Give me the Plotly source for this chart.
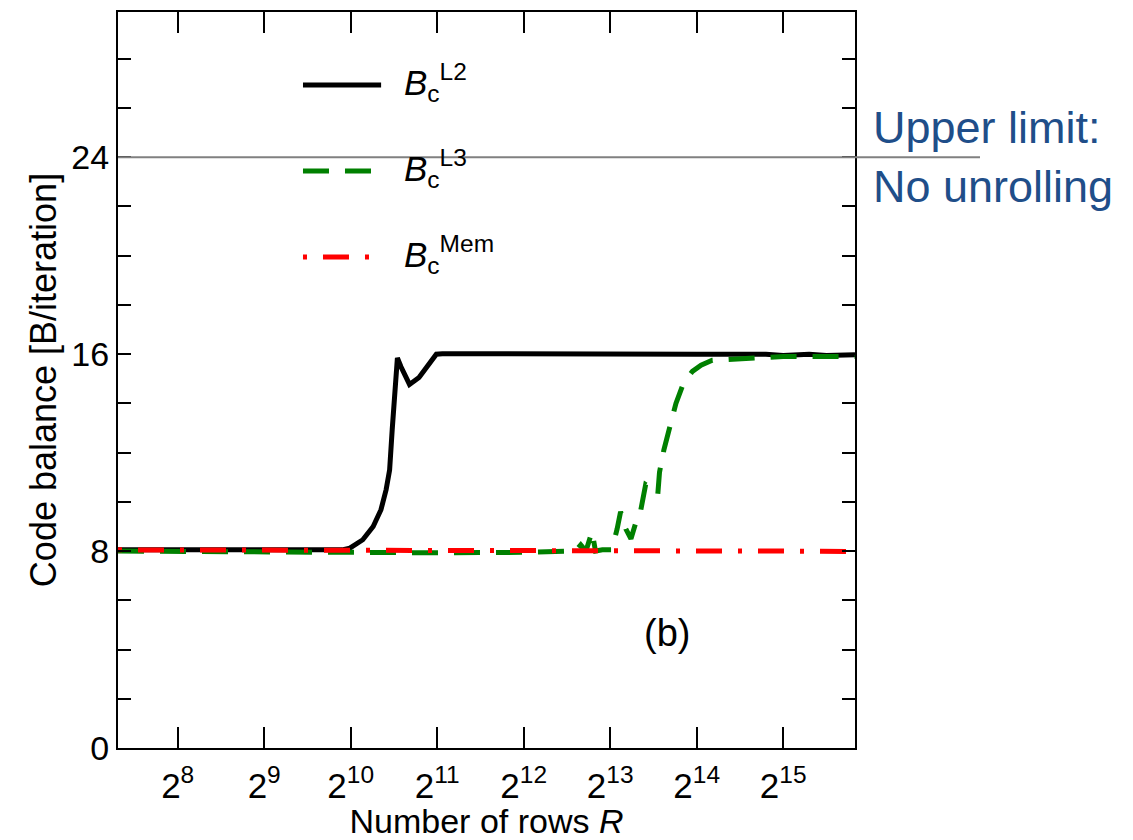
import math
import plotly.graph_objects as go

# ---- data (log2 of number of rows R, code balance in B/iteration) ----
l2_exp = [7.31, 8.0, 9.0, 9.9, 9.99, 10.14, 10.26, 10.35, 10.41, 10.45, 10.48, 10.51,
          10.54, 10.58, 10.68, 10.79, 10.91, 10.99, 11.06, 12.0, 13.0, 14.0, 14.8,
          15.0, 15.3, 15.5, 15.83]
l2_val = [8.05, 8.05, 8.03, 8.05, 8.12, 8.46, 9.0, 9.68, 10.5, 11.3, 12.94, 14.3,
          15.85, 15.5, 14.77, 15.05, 15.58, 16.0, 16.02, 16.0, 16.0, 16.0, 16.0,
          15.95, 16.0, 15.95, 15.98]

l3_exp = [7.31, 8.0, 9.0, 10.0, 11.0, 12.0, 12.6, 12.66, 12.72, 12.79, 12.83, 12.91,
          13.02, 13.08, 13.12, 13.18, 13.24, 13.30, 13.35, 13.41, 13.50, 13.55, 13.57,
          13.62, 13.66, 13.72, 13.76, 13.85, 13.95, 14.05, 14.18, 15.0, 15.83]
l3_val = [8.0, 7.98, 7.95, 7.95, 7.93, 7.95, 8.0, 8.25, 8.0, 8.8, 8.0, 8.05,
          8.05, 8.9, 9.6, 8.9, 8.5, 9.2, 9.6, 10.7, 10.5, 10.3, 11.2,
          12.1, 12.7, 13.5, 14.0, 14.85, 15.3, 15.55, 15.75, 15.9, 15.9]

mem_exp = [7.31, 9.0, 11.0, 13.0, 14.0, 15.0, 15.83]
mem_val = [8.05, 8.05, 8.05, 8.05, 8.02, 8.0, 7.98]

tick_exp = [8, 9, 10, 11, 12, 13, 14, 15]
tick_text = ["2<sup>%d</sup>" % e for e in tick_exp]
y_tick_vals = [0, 8, 16, 24]
upper_limit = 24
x_range_exp = [7.31, 15.83]
y_range = [0, 29.9]

series_names = ["<i>B</i><sub>c</sub><sup>L2</sup>",
                "<i>B</i><sub>c</sub><sup>L3</sup>",
                "<i>B</i><sub>c</sub><sup>Mem</sup>"]
colors = ["black", "#008000", "#ff0000"]
dashes = ["solid", "26px,16px", "4px,16px,26px,16px"]

FONT = "Liberation Sans, Arial, sans-serif"

def to_r(exps):
    return [2 ** e for e in exps]

fig = go.Figure()
for ex, val, c, d in [(l2_exp, l2_val, colors[0], dashes[0]),
                      (l3_exp, l3_val, colors[1], dashes[1]),
                      (mem_exp, mem_val, colors[2], dashes[2])]:
    fig.add_trace(go.Scatter(x=to_r(ex), y=val, mode="lines",
                             line=dict(color=c, width=5, dash=d),
                             showlegend=False))

# manual legend (paper coordinates)
leg_y = [0.9008, 0.7840, 0.6671]
for name, c, d, yy in zip(series_names, colors, dashes, leg_y):
    fig.add_shape(type="line", xref="paper", yref="paper", x0=0.251, x1=0.357,
                  y0=yy, y1=yy, line=dict(color=c, width=5, dash=d))
    fig.add_annotation(xref="paper", yref="paper", x=0.385, y=yy + 0.003,
                       xanchor="left", yanchor="middle", showarrow=False,
                       text=name, font=dict(family=FONT, size=35, color="black"))

# upper limit line
fig.add_shape(type="line", xref="paper", yref="paper", x0=0, x1=1.1696,
              y0=upper_limit / y_range[1], y1=upper_limit / y_range[1],
              line=dict(color="#808080", width=2), layer="above")
fig.add_annotation(xref="paper", yref="paper", x=1.022, y=upper_limit / y_range[1],
                   xanchor="left", yanchor="middle", showarrow=False, align="left",
                   text="Upper limit:<br>No unrolling",
                   font=dict(family=FONT, size=45, color="#1f4e89"))

fig.add_annotation(x=math.log10(2 ** 13.66), y=4.68, showarrow=False,
                   text="(b)", font=dict(family=FONT, size=38, color="black"))

fig.update_layout(
    width=1133, height=840,
    margin=dict(l=118, r=278, t=12, b=92),
    paper_bgcolor="white", plot_bgcolor="white",
    showlegend=False,
    xaxis=dict(type="log", automargin=False,
               range=[math.log10(2 ** x_range_exp[0]), math.log10(2 ** x_range_exp[1])],
               tickvals=to_r(tick_exp), ticktext=tick_text,
               ticks="inside", ticklen=21, tickwidth=2, tickcolor="black",
               ticklabelstandoff=6,
               showline=True, linecolor="black", linewidth=2, mirror="ticks",
               showgrid=False, zeroline=False,
               tickfont=dict(family=FONT, size=35, color="black"),
               title=dict(text="Number of rows <i>R</i>", standoff=0,
                          font=dict(family=FONT, size=34, color="black"))),
    yaxis=dict(range=y_range, tickvals=y_tick_vals, automargin=False,
               ticks="inside", ticklen=13, tickwidth=2, tickcolor="black",
               minor=dict(dtick=2, ticks="inside", ticklen=13, tickwidth=2,
                          tickcolor="black", showgrid=False),
               showline=True, linecolor="black", linewidth=2, mirror="ticks",
               showgrid=False, zeroline=False,
               tickfont=dict(family=FONT, size=34, color="black"),
               title=dict(text="Code balance [B/iteration]", standoff=4,
                          font=dict(family=FONT, size=36, color="black"))),
)

fig.write_html("out.html")
